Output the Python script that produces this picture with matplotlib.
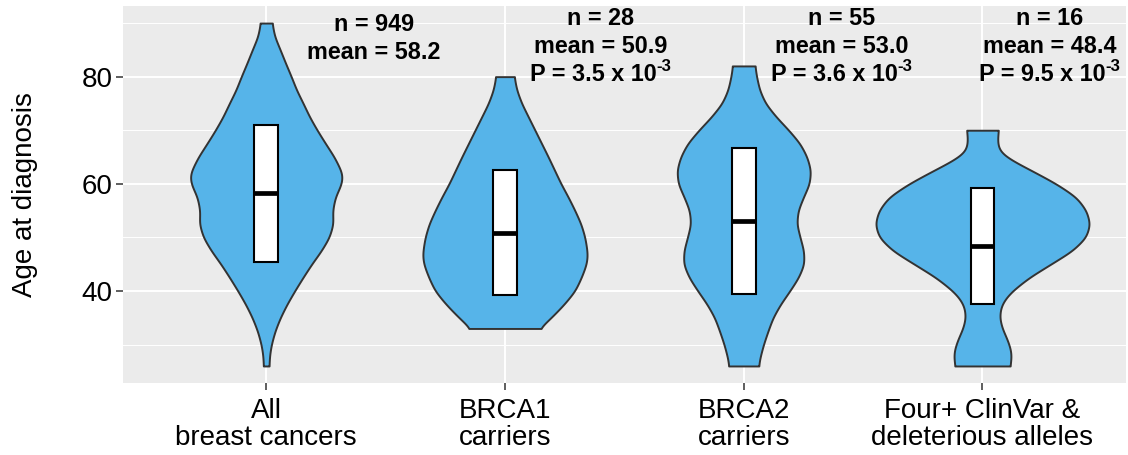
import numpy as np
import matplotlib
matplotlib.use('Agg')
import matplotlib.pyplot as plt
from matplotlib.patches import Rectangle
from matplotlib.transforms import offset_copy

plt.rcParams['font.family'] = ['Liberation Sans', 'DejaVu Sans']

# groups and summary stats
groups = ['All\nbreast cancers', 'BRCA1\ncarriers', 'BRCA2\ncarriers',
          'Four+ ClinVar &\ndeleterious alleles']
group_n = [949, 28, 55, 16]
group_mean = [58.2, 50.9, 53.0, 48.4]
group_sd = [12.8, 11.6, 13.6, 10.8]
p_value = [None, '3.5', '3.6', '9.5']
p_exp = '-3'

# violin outlines: age vs relative density (1 = widest violin)
all_age = [90, 87.5, 85, 82.5, 80, 77.5, 75, 72.5, 70, 67.5, 65, 62.5, 61.5, 60,
           57.5, 55, 52.5, 50, 47.5, 45, 42.5, 40, 37.5, 35, 32.5, 30, 28, 26]
all_dens = [0.054, 0.078, 0.13, 0.18, 0.233, 0.282, 0.344, 0.403, 0.474, 0.552,
            0.633, 0.695, 0.71, 0.70, 0.642, 0.617, 0.623, 0.586, 0.512, 0.422,
            0.341, 0.264, 0.192, 0.13, 0.081, 0.047, 0.031, 0.026]

brca1_age = [80, 77.5, 75, 72.5, 70, 67.5, 65, 62.5, 60, 57.5, 55, 52.5, 50,
             47.5, 46.5, 45, 42.5, 40, 37.5, 35, 33]
brca1_dens = [0.085, 0.109, 0.155, 0.217, 0.279, 0.341, 0.403, 0.462, 0.521,
              0.589, 0.651, 0.707, 0.744, 0.764, 0.767, 0.757, 0.71, 0.651,
              0.549, 0.428, 0.319]

brca2_age = [82, 80, 77.5, 75, 72.5, 70, 67.5, 65, 62.5, 60, 57.5, 55, 52.5, 50,
             47.5, 45, 42.5, 40, 37.5, 35, 32.5, 30, 27.5, 26]
brca2_dens = [0.104, 0.119, 0.147, 0.202, 0.301, 0.419, 0.524, 0.589, 0.623,
              0.611, 0.555, 0.505, 0.493, 0.524, 0.558, 0.561, 0.509, 0.428,
              0.341, 0.271, 0.225, 0.183, 0.15, 0.138]

four_age = [70, 68.5, 67, 66, 65, 63.75, 62.5, 60, 57.5, 55, 52.5, 50, 47.5, 45,
            42.5, 40, 38.5, 37, 35, 33, 31, 29, 27.5, 26]
four_dens = [0.149, 0.139, 0.144, 0.163, 0.224, 0.333, 0.455, 0.687, 0.873,
             0.966, 1.0, 0.963, 0.836, 0.635, 0.433, 0.276, 0.209, 0.169, 0.158,
             0.183, 0.229, 0.263, 0.268, 0.255]

violins = [(all_age, all_dens), (brca1_age, brca1_dens),
           (brca2_age, brca2_dens), (four_age, four_dens)]


def smooth_outline(age, dens, n=500):
    age = np.asarray(age, float)
    dens = np.asarray(dens, float)
    order = np.argsort(age)
    age, dens = age[order], dens[order]
    yy = np.linspace(age[0], age[-1], n)
    ww = np.interp(yy, age, dens)
    # round off the corners between points
    step = yy[1] - yy[0]
    sig = 0.8 / step
    k = np.arange(-int(4 * sig), int(4 * sig) + 1)
    kern = np.exp(-0.5 * (k / sig) ** 2)
    kern /= kern.sum()
    padded = np.pad(ww, len(k) // 2, mode='edge')
    ww = np.convolve(padded, kern, mode='valid')
    return yy, ww


fig = plt.figure(figsize=(11.28, 4.55), dpi=100)
ax = fig.add_axes([0.109, 0.158, 0.889, 0.829])
ax.set_facecolor('#EBEBEB')

pos = np.arange(1, len(groups) + 1)
half_max = 0.45

for i, (age, dens) in enumerate(violins):
    yy, ww = smooth_outline(age, dens)
    hw = ww * half_max
    ax.fill_betweenx(yy, pos[i] - hw, pos[i] + hw, facecolor='#56B4E9',
                     edgecolor='#333333', linewidth=1.4, zorder=2)

    # mean +/- sd crossbar
    m, s = group_mean[i], group_sd[i]
    ax.add_patch(Rectangle((pos[i] - 0.05, m - s), 0.1, 2 * s,
                           facecolor='white', edgecolor='black',
                           linewidth=1.5, zorder=3))
    ax.plot([pos[i] - 0.05, pos[i] + 0.05], [m, m], color='black',
            linewidth=3.4, solid_capstyle='butt', zorder=4)

ax.set_xlim(0.4, 4.6)
ax.set_ylim(22.8, 93.2)

# n / mean / P labels
fs = 16.8
text_dx = [0.45, 0.40, 0.41, 0.28]
renderer = fig.canvas.get_renderer()
for i in range(len(groups)):
    x = pos[i] + text_dx[i]
    if p_value[i] is not None:
        ys = [89.7, 84.35, 79.1]
    else:
        ys = [88.6, 83.35]
    lines = ['n = %d' % group_n[i], 'mean = %.1f' % group_mean[i]]
    for txt, yb in zip(lines, ys):
        ax.text(x, yb, txt, ha='center', va='baseline', fontsize=fs,
                fontweight='bold', color='black', zorder=5)
    if p_value[i] is not None:
        main = ax.text(x, ys[2], 'P = %s x 10' % p_value[i], ha='left',
                       va='baseline', fontsize=fs, fontweight='bold', zorder=5)
        sup = ax.text(x, ys[2], p_exp, ha='left', va='baseline',
                      fontsize=fs * 0.72, fontweight='bold', zorder=5)
        wm = main.get_window_extent(renderer).width
        ws = sup.get_window_extent(renderer).width
        start = -(wm + ws) / 2
        main.set_transform(offset_copy(ax.transData, fig=fig, x=start, y=0,
                                       units='dots'))
        sup.set_transform(offset_copy(ax.transData, fig=fig, x=start + wm,
                                      y=10, units='dots'))

ax.set_xticks(pos)
ax.set_xticklabels(groups, fontsize=20, linespacing=1.08)
ax.set_yticks([40, 60, 80])
ax.set_yticks([30, 50, 70, 90], minor=True)
ax.tick_params(axis='both', which='major', length=5, width=1.1,
               color='#333333', labelsize=20, labelcolor='black')
ax.tick_params(axis='y', which='major', pad=2.5)
ax.tick_params(axis='x', which='major', pad=5.5)
ax.tick_params(which='minor', length=0)

ax.grid(True, which='major', color='white', linewidth=1.4)
ax.grid(True, which='minor', axis='y', color='white', linewidth=0.7)
ax.set_axisbelow(True)
for sp in ax.spines.values():
    sp.set_visible(False)

ax.set_ylabel('Age at diagnosis', fontsize=20)
ax.yaxis.set_label_coords(-0.085, 0.5)

fig.savefig('out.png', dpi=100)
